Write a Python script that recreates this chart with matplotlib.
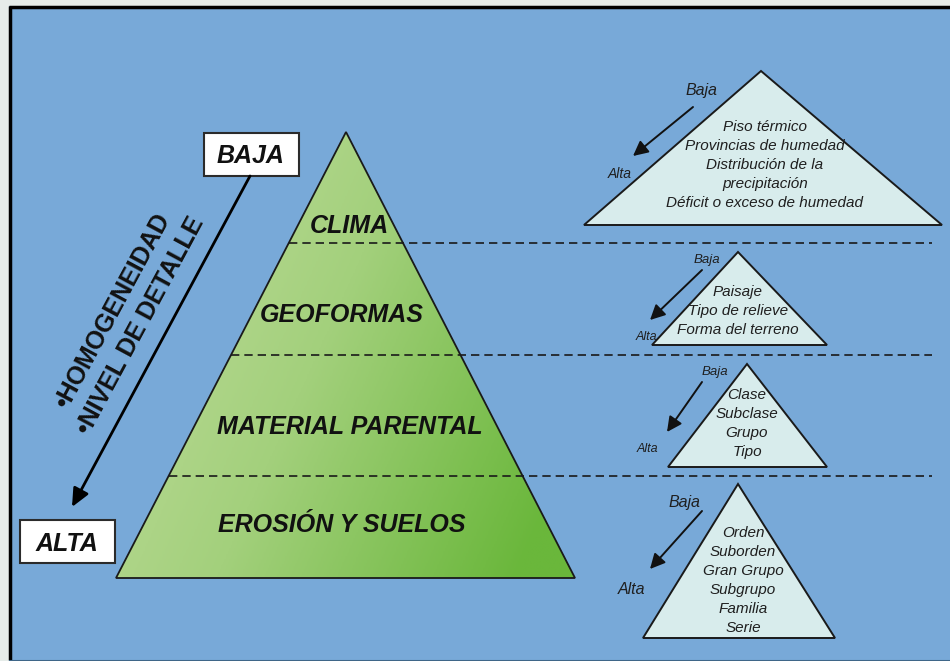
import numpy as np
import matplotlib
matplotlib.use("Agg")
from matplotlib import pyplot as plt
from matplotlib.patches import Polygon, Rectangle
from matplotlib.colors import LinearSegmentedColormap

# main pyramid layers (top -> bottom)
layers = ["CLIMA", "GEOFORMAS", "MATERIAL PARENTAL", "EROSIÓN Y SUELOS"]
side_text = ["•HOMOGENEIDAD", "•NIVEL DE DETALLE"]
top_label = "BAJA"
bottom_label = "ALTA"

# small triangles, one per layer
clima_items = ["Piso térmico", "Provincias de humedad", "Distribución de la",
               "precipitación", "Déficit o exceso de humedad"]
geoformas_items = ["Paisaje", "Tipo de relieve", "Forma del terreno"]
material_items = ["Clase", "Subclase", "Grupo", "Tipo"]
suelos_items = ["Orden", "Suborden", "Gran Grupo", "Subgrupo", "Familia", "Serie"]
small_items = [clima_items, geoformas_items, material_items, suelos_items]

BLUE = "#78a9d8"
TRI_FILL = "#d8ecec"

fig = plt.figure(figsize=(9.5, 6.61), dpi=100)
fig.patch.set_facecolor("#e6ece9")
ax = fig.add_axes([0, 0, 1, 1])
ax.set_xlim(0, 950)
ax.set_ylim(661, 0)
ax.axis("off")

# blue panel
ax.add_patch(Rectangle((9, 6), 960, 654, facecolor=BLUE, edgecolor="none", zorder=0))
ax.plot([8.5, 950], [6.5, 6.5], color="black", lw=2.5, zorder=1,
        solid_capstyle="butt")
ax.plot([9.5, 9.5], [5.5, 660], color="black", lw=2.5, zorder=1,
        solid_capstyle="butt")
ax.plot([9, 950], [660.5, 660.5], color="#3f6688", lw=1.5, zorder=1,
        solid_capstyle="butt")

# main pyramid with green gradient
apex = (346, 132)
base_y = 578
base_l, base_r = 116, 575
tri = Polygon([apex, (base_l, base_y), (base_r, base_y)], closed=True,
              facecolor="none", edgecolor="#1a1a1a", lw=1.3, zorder=3)
ax.add_patch(tri)
gx = np.linspace(0, 1, 300)
gy = np.linspace(0, 1, 300)
X, Y = np.meshgrid(gx, gy)
grad = 0.8 * X + 0.35 * Y
grad = np.clip(grad / 1.05, 0, 1)
cmap = LinearSegmentedColormap.from_list("g", ["#c3de9f", "#a3d07c", "#6ab73b"])
im = ax.imshow(grad, cmap=cmap, extent=(base_l, base_r, base_y, apex[1]),
               origin="upper", zorder=2, aspect="auto")
im.set_clip_path(Polygon([apex, (base_l, base_y), (base_r, base_y)],
                         closed=True, transform=ax.transData))

# dashed separators
sep_y = [243, 355, 476]
for y in sep_y:
    x0 = apex[0] - (y - apex[1]) * (apex[0] - base_l) / (base_y - apex[1])
    ax.plot([x0, 932], [y, y], color="#1a1a1a", lw=1.2,
            linestyle=(0, (5, 3)), zorder=4)

# layer labels
label_pos = [(349, 233), (342, 322), (350, 434), (342, 532)]
for name, (x, y) in zip(layers, label_pos):
    ax.text(x, y, name, ha="center", va="baseline", fontsize=18,
            fontweight="bold", fontstyle="italic", family="Liberation Sans",
            color="#111111", zorder=5)

# BAJA / ALTA boxes
for lab, (bx, by, bw, bh), base in [(top_label, (204, 133, 95, 43), 163),
                                     (bottom_label, (20, 520, 95, 43), 551)]:
    ax.add_patch(Rectangle((bx, by), bw, bh, facecolor="white",
                           edgecolor="#2b2b2b", lw=1.5, zorder=5))
    ax.text(bx + bw / 2 - 1, base, lab, ha="center", va="baseline",
            fontsize=18, fontweight="bold", fontstyle="italic",
            family="Liberation Sans", color="#111111", zorder=6)

# long arrow
ax.annotate("", xy=(72, 507), xytext=(250, 176),
            arrowprops=dict(arrowstyle="-|>,head_length=1.1,head_width=0.5",
                            color="black", lw=2, shrinkA=0, shrinkB=0), zorder=5)

# rotated side text
for txt, (x, y) in zip(side_text, [(113, 311), (140, 326)]):
    ax.text(x, y, txt, rotation=61.7, rotation_mode="anchor", ha="center",
            va="center", fontsize=18, fontweight="bold",
            family="Liberation Sans", color="#111111", zorder=5)

# small triangles
small_tris = [((761, 71), 584, 942, 225),
              ((738, 252), 652, 827, 345),
              ((747, 364), 668, 827, 467),
              ((738, 484), 643, 835, 638)]
text_start = [(765, 127), (738, 292), (747, 395), (743, 533)]
baja_pos = [(701, 90, 11.5), (707, 260, 9.5), (715, 372, 9.5), (684, 503, 11.5)]
alta_pos = [(620, 174, 10), (646, 337, 9), (647, 449, 9), (632, 589, 11.5)]
arrows = [((693, 107), (633, 156)), ((702, 270), (650, 320)),
          ((702, 382), (667, 432)), ((702, 511), (650, 569))]

for (ap, xl, xr, yb), items, (tx, ty), bp, alp, (a0, a1) in zip(
        small_tris, small_items, text_start, baja_pos, alta_pos, arrows):
    ax.add_patch(Polygon([ap, (xl, yb), (xr, yb)], closed=True,
                         facecolor=TRI_FILL, edgecolor="#1a1a1a", lw=1.4, zorder=3))
    for i, line in enumerate(items):
        ax.text(tx, ty + 19 * i, line, ha="center", va="center", fontsize=11,
                fontstyle="italic", family="Liberation Sans",
                color="#1f1f1f", zorder=5)
    ax.text(bp[0], bp[1], "Baja", ha="center", va="center", fontsize=bp[2],
            fontstyle="italic", family="Liberation Sans", color="#1f1f1f", zorder=5)
    ax.text(alp[0], alp[1], "Alta", ha="center", va="center", fontsize=alp[2],
            fontstyle="italic", family="Liberation Sans", color="#1f1f1f", zorder=5)
    ax.annotate("", xy=a1, xytext=a0,
                arrowprops=dict(arrowstyle="-|>,head_length=0.9,head_width=0.45",
                                color="#111111", lw=1.4, shrinkA=0, shrinkB=0),
                zorder=5)

fig.savefig("out.png", dpi=100, facecolor=fig.get_facecolor())
